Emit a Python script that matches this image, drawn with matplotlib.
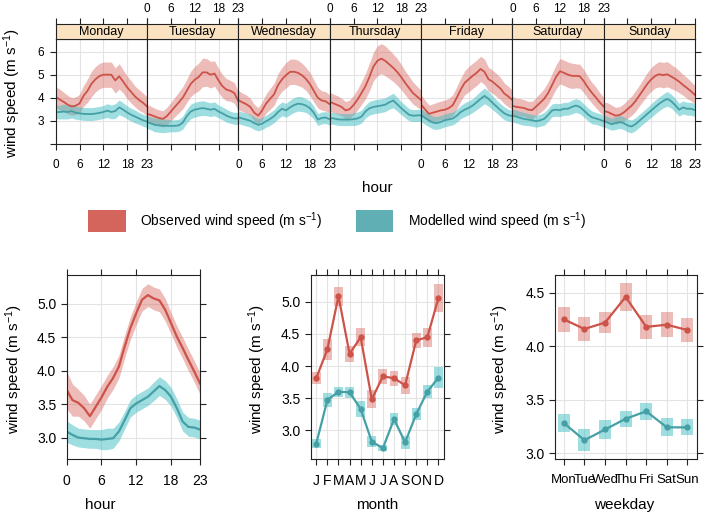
import numpy as np
import matplotlib
matplotlib.use('Agg')
import matplotlib.pyplot as plt
from matplotlib.patches import Rectangle

plt.rcParams['font.family'] = ['Liberation Sans', 'DejaVu Sans']
plt.rcParams['mathtext.default'] = 'regular'

# ---- data ----
days = ['Monday', 'Tuesday', 'Wednesday', 'Thursday', 'Friday', 'Saturday', 'Sunday']
hours = list(range(24))

# observed wind speed, hour x weekday
obs_week = [
    [4.04, 3.92, 3.82, 3.70, 3.62, 3.65, 3.75, 4.08, 4.30, 4.60, 4.80, 4.94, 5.00, 5.00, 5.00, 4.75, 4.93, 4.70, 4.45, 4.25, 4.05, 3.90, 3.78, 3.62],
    [3.30, 3.25, 3.18, 3.12, 3.08, 3.20, 3.40, 3.60, 3.80, 4.00, 4.30, 4.60, 4.78, 4.90, 5.10, 5.10, 5.00, 5.05, 4.75, 4.50, 4.35, 4.30, 4.20, 3.85],
    [3.90, 3.80, 3.72, 3.60, 3.35, 3.22, 3.45, 3.75, 3.95, 4.15, 4.55, 4.80, 4.98, 5.12, 5.13, 5.08, 4.98, 4.82, 4.60, 4.30, 4.00, 3.88, 3.84, 3.72],
    [3.83, 3.75, 3.68, 3.60, 3.45, 3.50, 3.68, 3.92, 4.20, 4.50, 4.90, 5.35, 5.60, 5.70, 5.60, 5.45, 5.30, 5.12, 4.90, 4.65, 4.42, 4.20, 4.05, 3.90],
    [3.70, 3.50, 3.30, 3.35, 3.40, 3.45, 3.48, 3.55, 3.68, 4.00, 4.35, 4.65, 4.80, 4.95, 5.08, 5.25, 5.12, 4.80, 4.70, 4.55, 4.40, 4.18, 4.05, 3.90],
    [3.65, 3.60, 3.58, 3.55, 3.48, 3.46, 3.62, 3.78, 3.95, 4.20, 4.55, 4.90, 5.15, 5.08, 5.00, 4.95, 4.95, 4.93, 4.72, 4.45, 4.22, 4.02, 3.80, 3.62],
    [3.42, 3.38, 3.30, 3.22, 3.25, 3.35, 3.50, 3.65, 3.85, 4.10, 4.35, 4.60, 4.80, 4.95, 5.02, 4.98, 5.02, 4.92, 4.82, 4.70, 4.55, 4.42, 4.28, 4.12],
]
obs_week_ci = [
    [0.45, 0.45, 0.42, 0.40, 0.38, 0.38, 0.40, 0.45, 0.50, 0.55, 0.55, 0.55, 0.55, 0.55, 0.55, 0.55, 0.55, 0.50, 0.50, 0.48, 0.45, 0.45, 0.42, 0.42],
    [0.40, 0.38, 0.36, 0.35, 0.35, 0.38, 0.40, 0.42, 0.45, 0.48, 0.50, 0.55, 0.58, 0.60, 0.62, 0.60, 0.58, 0.55, 0.52, 0.50, 0.48, 0.45, 0.45, 0.42],
    [0.42, 0.40, 0.40, 0.38, 0.36, 0.35, 0.38, 0.42, 0.45, 0.48, 0.50, 0.52, 0.55, 0.55, 0.55, 0.55, 0.52, 0.50, 0.50, 0.48, 0.45, 0.42, 0.42, 0.40],
    [0.42, 0.40, 0.40, 0.38, 0.38, 0.40, 0.42, 0.45, 0.50, 0.55, 0.60, 0.62, 0.65, 0.65, 0.65, 0.62, 0.60, 0.58, 0.55, 0.52, 0.50, 0.48, 0.45, 0.42],
    [0.42, 0.40, 0.38, 0.38, 0.40, 0.40, 0.42, 0.42, 0.45, 0.48, 0.50, 0.52, 0.55, 0.55, 0.55, 0.55, 0.55, 0.52, 0.50, 0.50, 0.48, 0.45, 0.45, 0.42],
    [0.40, 0.38, 0.38, 0.36, 0.36, 0.38, 0.40, 0.42, 0.45, 0.48, 0.50, 0.52, 0.55, 0.55, 0.55, 0.55, 0.52, 0.52, 0.50, 0.48, 0.45, 0.45, 0.42, 0.40],
    [0.40, 0.40, 0.38, 0.36, 0.36, 0.38, 0.40, 0.42, 0.45, 0.45, 0.48, 0.50, 0.52, 0.52, 0.55, 0.55, 0.55, 0.52, 0.50, 0.48, 0.45, 0.45, 0.42, 0.40],
]
# modelled wind speed, hour x weekday
mod_week = [
    [3.37, 3.38, 3.40, 3.38, 3.42, 3.35, 3.32, 3.30, 3.29, 3.29, 3.31, 3.34, 3.38, 3.44, 3.38, 3.42, 3.58, 3.48, 3.36, 3.26, 3.18, 3.10, 3.02, 2.96],
    [2.95, 2.88, 2.82, 2.80, 2.78, 2.78, 2.78, 2.78, 2.80, 2.92, 3.20, 3.40, 3.48, 3.52, 3.55, 3.52, 3.48, 3.52, 3.40, 3.32, 3.22, 3.15, 3.10, 3.10],
    [3.15, 3.10, 3.05, 3.00, 2.90, 2.82, 2.88, 2.98, 3.08, 3.20, 3.38, 3.52, 3.45, 3.58, 3.68, 3.74, 3.72, 3.66, 3.55, 3.35, 3.05, 3.12, 3.14, 3.06],
    [3.12, 3.10, 3.06, 3.05, 3.05, 3.05, 3.07, 3.10, 3.18, 3.40, 3.54, 3.60, 3.63, 3.66, 3.70, 3.80, 3.88, 3.72, 3.55, 3.40, 3.26, 3.22, 3.23, 3.24],
    [3.25, 3.12, 3.02, 2.92, 2.90, 2.95, 3.02, 3.06, 3.10, 3.22, 3.38, 3.48, 3.56, 3.66, 3.80, 3.95, 4.08, 3.95, 3.78, 3.62, 3.46, 3.32, 3.24, 3.20],
    [3.22, 3.18, 3.12, 3.08, 3.05, 3.02, 2.98, 3.02, 3.08, 3.25, 3.45, 3.48, 3.46, 3.52, 3.52, 3.60, 3.66, 3.60, 3.45, 3.28, 3.15, 3.10, 3.05, 2.98],
    [3.00, 2.92, 2.85, 2.90, 2.95, 2.90, 2.80, 2.75, 2.85, 3.00, 3.15, 3.30, 3.45, 3.60, 3.74, 3.86, 3.95, 3.85, 3.68, 3.48, 3.58, 3.52, 3.52, 3.46],
]
mod_week_ci = [
    [0.28, 0.30, 0.32, 0.30, 0.30, 0.28, 0.28, 0.28, 0.28, 0.28, 0.28, 0.28, 0.28, 0.30, 0.30, 0.32, 0.32, 0.30, 0.28, 0.28, 0.28, 0.26, 0.26, 0.26],
    [0.28, 0.28, 0.30, 0.30, 0.30, 0.28, 0.26, 0.26, 0.26, 0.28, 0.30, 0.32, 0.32, 0.32, 0.32, 0.30, 0.30, 0.30, 0.28, 0.28, 0.28, 0.26, 0.26, 0.26],
    [0.28, 0.28, 0.28, 0.28, 0.28, 0.26, 0.26, 0.26, 0.28, 0.28, 0.30, 0.30, 0.30, 0.32, 0.32, 0.32, 0.32, 0.30, 0.30, 0.28, 0.26, 0.26, 0.26, 0.26],
    [0.26, 0.26, 0.26, 0.26, 0.26, 0.26, 0.28, 0.28, 0.28, 0.28, 0.30, 0.30, 0.30, 0.30, 0.30, 0.30, 0.32, 0.30, 0.28, 0.28, 0.26, 0.26, 0.26, 0.26],
    [0.28, 0.28, 0.28, 0.28, 0.28, 0.28, 0.28, 0.28, 0.28, 0.28, 0.28, 0.30, 0.30, 0.30, 0.32, 0.34, 0.34, 0.32, 0.30, 0.28, 0.28, 0.28, 0.26, 0.26],
    [0.28, 0.28, 0.28, 0.28, 0.26, 0.26, 0.26, 0.26, 0.28, 0.28, 0.28, 0.28, 0.28, 0.28, 0.28, 0.30, 0.30, 0.30, 0.28, 0.28, 0.28, 0.26, 0.26, 0.26],
    [0.26, 0.26, 0.26, 0.28, 0.28, 0.28, 0.28, 0.28, 0.28, 0.28, 0.28, 0.28, 0.30, 0.30, 0.30, 0.30, 0.32, 0.30, 0.30, 0.28, 0.28, 0.28, 0.28, 0.28],
]

# diurnal means
obs_hour = [3.71, 3.56, 3.52, 3.44, 3.32, 3.46, 3.60, 3.76, 3.89, 4.06, 4.36, 4.64, 4.86, 5.06, 5.13, 5.08, 5.05, 4.91, 4.71, 4.51, 4.34, 4.16, 3.99, 3.81]
obs_hour_ci = [0.28, 0.24, 0.20, 0.19, 0.18, 0.18, 0.18, 0.17, 0.17, 0.17, 0.17, 0.17, 0.17, 0.17, 0.17, 0.17, 0.17, 0.17, 0.16, 0.16, 0.16, 0.16, 0.16, 0.16]
mod_hour = [3.09, 3.04, 3.00, 2.99, 2.98, 2.98, 2.97, 2.98, 2.99, 3.09, 3.26, 3.44, 3.51, 3.56, 3.61, 3.69, 3.77, 3.71, 3.61, 3.44, 3.24, 3.16, 3.15, 3.12]
mod_hour_ci = [0.16, 0.15, 0.14, 0.14, 0.14, 0.14, 0.15, 0.16, 0.15, 0.14, 0.13, 0.13, 0.13, 0.13, 0.13, 0.14, 0.14, 0.14, 0.14, 0.14, 0.14, 0.14, 0.14, 0.14]

# monthly means
months = ['J', 'F', 'M', 'A', 'M', 'J', 'J', 'A', 'S', 'O', 'N', 'D']
obs_month = [3.81, 4.26, 5.09, 4.19, 4.45, 3.48, 3.84, 3.81, 3.70, 4.40, 4.45, 5.06]
obs_month_ci = [0.09, 0.16, 0.15, 0.12, 0.14, 0.14, 0.12, 0.12, 0.13, 0.12, 0.15, 0.22]
mod_month = [2.79, 3.47, 3.60, 3.59, 3.33, 2.82, 2.72, 3.17, 2.81, 3.25, 3.60, 3.82]
mod_month_ci = [0.07, 0.11, 0.08, 0.09, 0.12, 0.09, 0.05, 0.09, 0.10, 0.09, 0.10, 0.16]

# weekday means
wdays = ['Mon', 'Tue', 'Wed', 'Thu', 'Fri', 'Sat', 'Sun']
obs_wday = [4.25, 4.16, 4.22, 4.46, 4.18, 4.20, 4.15]
obs_wday_ci = [0.12, 0.11, 0.10, 0.13, 0.11, 0.115, 0.11]
mod_wday = [3.28, 3.12, 3.22, 3.32, 3.39, 3.24, 3.24]
mod_wday_ci = [0.085, 0.10, 0.09, 0.073, 0.078, 0.085, 0.075]

# ---- style ----
red = '#D4655D'
red_line = '#CD5248'
red_band = '#D86A62'
teal = '#5FAFB4'
teal_line = '#45A0A6'
teal_band = '#3FBCC3'
grid_c = '#E3E3E3'
ylab = 'wind speed (m s$^{-1}$)'

W, H = 705, 514
fig = plt.figure(figsize=(W / 100, H / 100), dpi=100)


def pix_axes(x0, y0, x1, y1):
    return fig.add_axes([x0 / W, 1 - y1 / H, (x1 - x0) / W, (y1 - y0) / H])


def frame(ax):
    for s in ax.spines.values():
        s.set_color('#222222')
        s.set_linewidth(0.8)


# ---- top: hour by weekday ----
x_start, x_end = 55.7, 695.0
day_w = (x_end - x_start) / 7
for i, day in enumerate(days):
    x0 = x_start + i * day_w
    ax = pix_axes(x0, 39, x0 + day_w, 144)
    o = np.array(obs_week[i]); oc = np.array(obs_week_ci[i])
    m = np.array(mod_week[i]); mc = np.array(mod_week_ci[i])
    ax.fill_between(hours, o - oc, o + oc, color=red_band, alpha=0.45, lw=0)
    ax.fill_between(hours, m - mc, m + mc, color=teal_band, alpha=0.5, lw=0)
    ax.plot(hours, o, color=red_line, lw=1.3)
    ax.plot(hours, m, color=teal_line, lw=1.3)
    ax.set_xlim(0, 23)
    ax.set_ylim(1.99, 6.55)
    ax.set_xticks([0, 6, 12, 18, 23])
    ax.set_yticks([2, 3, 4, 5, 6])
    ax.set_yticklabels(['', '3', '4', '5', '6'])
    ax.grid(color=grid_c, lw=0.8)
    ax.set_axisbelow(True)
    ax.tick_params(direction='out', length=4.5, width=0.8, color='#222222', labelsize=8.5, pad=4)
    ax.tick_params(axis='x', top=False, bottom=True, labelbottom=(i % 2 == 0), pad=6)
    ax.tick_params(axis='y', left=(i == 0), right=(i == 6), labelleft=(i == 0), labelright=False)
    frame(ax)

    sx = pix_axes(x0, 24, x0 + day_w, 39)
    sx.set_facecolor('#FBE3C2')
    sx.set_xlim(0, 23)
    sx.set_xticks([0, 6, 12, 18, 23])
    sx.set_yticks([])
    sx.tick_params(direction='out', length=4.5, width=0.8, color='#222222', labelsize=8.5, pad=2,
                   top=True, bottom=False, labeltop=(i % 2 == 1), labelbottom=False)
    sx.text(0.5, 0.45, day, transform=sx.transAxes, ha='center', va='center', fontsize=9)
    frame(sx)

fig.text(377 / W, 1 - 188 / H, 'hour', ha='center', va='center', fontsize=11)
fig.text(12.5 / W, 1 - 93 / H, ylab, ha='center', va='center', rotation=90, fontsize=11)

# ---- legend ----
fig.add_artist(Rectangle((88 / W, 1 - 232 / H), 38 / W, 22 / H, transform=fig.transFigure,
                         facecolor=red, edgecolor='none'))
fig.text(140 / W, 1 - 221 / H, 'Observed wind speed (m s$^{-1}$)', ha='left', va='center', fontsize=10)
fig.add_artist(Rectangle((356 / W, 1 - 232 / H), 37 / W, 22 / H, transform=fig.transFigure,
                         facecolor=teal, edgecolor='none'))
fig.text(408 / W, 1 - 221 / H, 'Modelled wind speed (m s$^{-1}$)', ha='left', va='center', fontsize=10)


def bottom_style(ax):
    ax.grid(color=grid_c, lw=0.8)
    ax.set_axisbelow(True)
    ax.tick_params(direction='out', length=4.5, width=0.8, color='#222222', labelsize=10,
                   top=True, right=True, labeltop=False, labelright=False)
    ax.tick_params(axis='x', pad=6)
    ax.tick_params(axis='y', pad=3)
    frame(ax)


# ---- bottom left: hour ----
ax = pix_axes(66.7, 275, 200, 459)
o = np.array(obs_hour); oc = np.array(obs_hour_ci)
m = np.array(mod_hour); mc = np.array(mod_hour_ci)
ax.fill_between(hours, o - oc, o + oc, color=red_band, alpha=0.45, lw=0)
ax.fill_between(hours, m - mc, m + mc, color=teal_band, alpha=0.5, lw=0)
ax.plot(hours, o, color=red_line, lw=1.6)
ax.plot(hours, m, color=teal_line, lw=1.6)
ax.set_xlim(0, 23)
ax.set_ylim(2.68, 5.43)
ax.set_xticks([0, 6, 12, 18, 23])
ax.set_yticks([3.0, 3.5, 4.0, 4.5, 5.0])
ax.set_yticklabels(['3.0', '3.5', '4.0', '4.5', '5.0'])
bottom_style(ax)
fig.text(100 / W, 1 - 505 / H, 'hour', ha='center', va='center', fontsize=11)
fig.text(14 / W, 1 - 369 / H, ylab, ha='center', va='center', rotation=90, fontsize=11)

# ---- bottom middle: month ----
ax = pix_axes(310.7, 275, 444, 459)
mx = np.arange(1, 13)
bw = 0.8
for x, v, c in zip(mx, obs_month, obs_month_ci):
    ax.add_patch(Rectangle((x - bw / 2, v - c), bw, 2 * c, facecolor=red_band, alpha=0.45, lw=0))
for x, v, c in zip(mx, mod_month, mod_month_ci):
    ax.add_patch(Rectangle((x - bw / 2, v - c), bw, 2 * c, facecolor=teal_band, alpha=0.5, lw=0))
ax.plot(mx, obs_month, color=red_line, lw=1.6, marker='o', ms=3.5)
ax.plot(mx, mod_month, color=teal_line, lw=1.6, marker='o', ms=3.5)
ax.set_xlim(0.5, 12.5)
ax.set_ylim(2.55, 5.42)
ax.set_xticks(mx)
ax.set_xticklabels(months)
ax.set_yticks([3.0, 3.5, 4.0, 4.5, 5.0])
ax.set_yticklabels(['3.0', '3.5', '4.0', '4.5', '5.0'])
bottom_style(ax)
fig.text(377 / W, 1 - 505 / H, 'month', ha='center', va='center', fontsize=11)
fig.text(257 / W, 1 - 369 / H, ylab, ha='center', va='center', rotation=90, fontsize=11)

# ---- bottom right: weekday ----
ax = pix_axes(555, 275, 696.7, 459)
wx = np.arange(1, 8)
bw = 0.58
for x, v, c in zip(wx, obs_wday, obs_wday_ci):
    ax.add_patch(Rectangle((x - bw / 2, v - c), bw, 2 * c, facecolor=red_band, alpha=0.45, lw=0))
for x, v, c in zip(wx, mod_wday, mod_wday_ci):
    ax.add_patch(Rectangle((x - bw / 2, v - c), bw, 2 * c, facecolor=teal_band, alpha=0.5, lw=0))
ax.plot(wx, obs_wday, color=red_line, lw=1.6, marker='o', ms=3.5)
ax.plot(wx, mod_wday, color=teal_line, lw=1.6, marker='o', ms=3.5)
ax.set_xlim(0.57, 7.45)
ax.set_ylim(2.944, 4.665)
ax.set_xticks(wx)
ax.set_xticklabels(wdays)
ax.set_yticks([3.0, 3.5, 4.0, 4.5])
ax.set_yticklabels(['3.0', '3.5', '4.0', '4.5'])
bottom_style(ax)
ax.tick_params(axis='x', labelsize=9.5)
fig.text(624 / W, 1 - 505 / H, 'weekday', ha='center', va='center', fontsize=11)
fig.text(500 / W, 1 - 369 / H, ylab, ha='center', va='center', rotation=90, fontsize=11)

fig.savefig('out.png', dpi=100)
